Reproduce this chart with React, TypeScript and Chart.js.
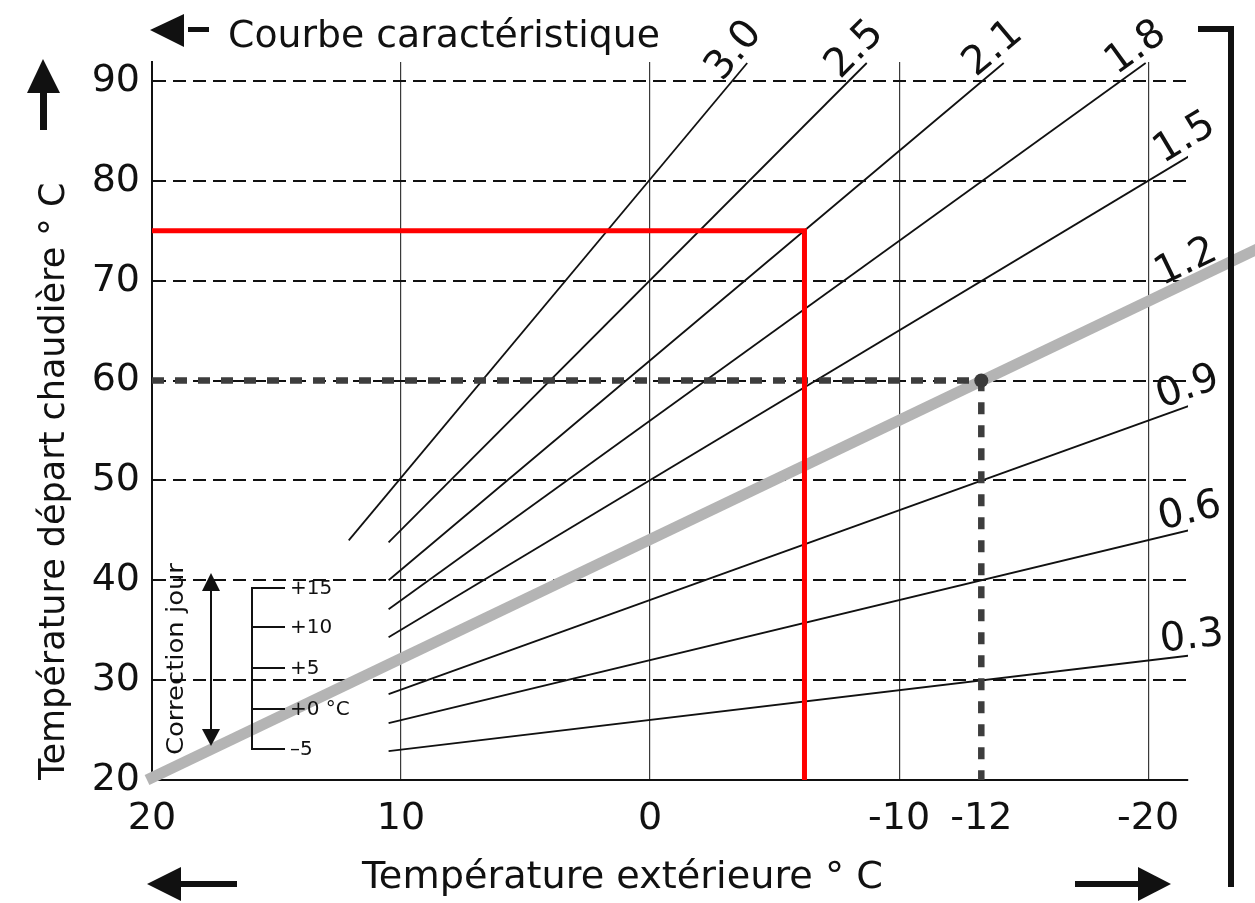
import React, { useEffect, useRef } from 'react';
import { Chart, registerables } from 'chart.js';

Chart.register(...registerables);

// Heating curves ("Courbe caractéristique"), each a straight segment
const curveNames = ['3.0', '2.5', '2.1', '1.8', '1.5', '1.2', '0.9', '0.6', '0.3'];
const curveStartX = [12.1, 10.5, 10.5, 10.5, 10.5, 10.5, 10.5, 10.5, 10.5];
const curveStartY = [44.0, 43.8, 40.0, 37.1, 34.3, 31.4, 28.6, 25.7, 22.9];
const curveEndX = [-3.9, -8.7, -14.2, -19.9, -21.8, -21.8, -21.8, -21.8, -21.8];
const curveEndY = [91.8, 91.8, 91.8, 91.8, 82.7, 70.2, 57.6, 45.1, 32.5];

// Highlighted (grey) curve
const selectedCurveX = [20.2, -24.4];
const selectedCurveY = [20.0, 73.2];

// Red construction line
const redPathX = [20, -6.2, -6.2];
const redPathY = [75, 75, 20];

// Dark dashed reading line and its point
const readingX = [20, -13.3, -13.3];
const readingY = [60, 60, 20];

// Axis ticks
const yTickValues = [20, 30, 40, 50, 60, 70, 80, 90];
const xTickValues = [20, 10, 0, -10, -13.3, -20];
const xTickLabels = ['20', '10', '0', '-10', '-12', '-20'];
const xGridHidden = [20, -13.3];

// Day correction inset
const correctionLabels = ['+15', '+10', '+5', '+0 °C', '–5'];

const FONT = '"DejaVu Sans", sans-serif';
const INK = '#111111';

function fitText(ctx: CanvasRenderingContext2D, text: string, x: number, y: number, width: number) {
  const w = ctx.measureText(text).width;
  ctx.save();
  ctx.translate(x, y);
  ctx.scale(width / w, 1);
  ctx.fillText(text, 0, 0);
  ctx.restore();
}

function tri(ctx: CanvasRenderingContext2D, ax: number, ay: number, bx: number, by: number, cx: number, cy: number) {
  ctx.beginPath();
  ctx.moveTo(ax, ay);
  ctx.lineTo(bx, by);
  ctx.lineTo(cx, cy);
  ctx.closePath();
  ctx.fill();
}

const curveLabelPlugin = {
  id: 'curveLabels',
  afterDatasetsDraw(chart: any) {
    const ctx: CanvasRenderingContext2D = chart.ctx;
    const xs = chart.scales.x;
    const ys = chart.scales.y;
    ctx.save();
    ctx.fillStyle = INK;
    ctx.font = `40px ${FONT}`;
    ctx.textAlign = 'center';
    ctx.textBaseline = 'alphabetic';
    curveNames.forEach((name, i) => {
      const x0 = xs.getPixelForValue(curveStartX[i]);
      const y0 = ys.getPixelForValue(curveStartY[i]);
      const x1 = xs.getPixelForValue(curveEndX[i]);
      const y1 = ys.getPixelForValue(curveEndY[i]);
      const ang = Math.atan2(y1 - y0, x1 - x0);
      ctx.save();
      ctx.translate(x1, y1);
      ctx.rotate(ang);
      ctx.fillText(name, 1, -7);
      ctx.restore();
    });
    ctx.restore();
  },
};

const decorPlugin = {
  id: 'decor',
  afterDraw(chart: any) {
    const ctx: CanvasRenderingContext2D = chart.ctx;
    ctx.save();
    ctx.fillStyle = INK;
    ctx.strokeStyle = INK;

    // top title with left arrow
    tri(ctx, 150, 30, 184, 14, 184, 47);
    ctx.fillRect(188, 27, 21, 5);
    ctx.font = `38px ${FONT}`;
    ctx.textAlign = 'left';
    ctx.textBaseline = 'alphabetic';
    fitText(ctx, 'Courbe caractéristique', 228, 47, 432);

    // up arrow
    tri(ctx, 43, 59, 27, 93, 60, 93);
    ctx.fillRect(40, 92, 7, 38);

    // bottom arrows
    tri(ctx, 147, 884, 181, 867, 181, 901);
    ctx.fillRect(180, 881, 57, 6);
    tri(ctx, 1171, 884, 1138, 867, 1138, 901);
    ctx.fillRect(1075, 881, 64, 6);

    // right bracket
    ctx.fillRect(1198, 26, 36, 6);
    ctx.fillRect(1228, 26, 6, 861);

    // x axis title
    ctx.font = `38px ${FONT}`;
    fitText(ctx, 'Température extérieure ° C', 362, 888, 521);

    // day correction inset
    const ticksY = [588, 627, 668, 709, 749];
    ctx.lineWidth = 2;
    ctx.beginPath();
    ctx.moveTo(252, ticksY[0]);
    ctx.lineTo(252, ticksY[ticksY.length - 1]);
    ticksY.forEach((ty) => {
      ctx.moveTo(251, ty);
      ctx.lineTo(285, ty);
    });
    ctx.stroke();
    ctx.font = `20px ${FONT}`;
    ctx.textBaseline = 'middle';
    correctionLabels.forEach((lab, i) => {
      ctx.fillText(lab, 290, ticksY[i] + 1);
    });

    // double arrow
    ctx.beginPath();
    ctx.moveTo(211, 588);
    ctx.lineTo(211, 732);
    ctx.stroke();
    tri(ctx, 211, 573, 202, 591, 220, 591);
    tri(ctx, 211, 746, 202, 729, 220, 729);

    // rotated caption
    ctx.save();
    ctx.translate(183, 755);
    ctx.rotate(-Math.PI / 2);
    ctx.font = `23px ${FONT}`;
    ctx.textBaseline = 'alphabetic';
    fitText(ctx, 'Correction jour', 0, 0, 192);
    ctx.restore();

    ctx.restore();
  },
};

export default function App() {
  const ref = useRef<HTMLCanvasElement>(null);

  useEffect(() => {
    document.body.style.margin = '0';
    const canvas = ref.current!;
    const pts = (xs: number[], ys: number[]) => xs.map((x, i) => ({ x, y: ys[i] }));

    const curveSets = curveNames.map((n, i) => ({
      label: n,
      data: [
        { x: curveStartX[i], y: curveStartY[i] },
        { x: curveEndX[i], y: curveEndY[i] },
      ],
      borderColor: INK,
      borderWidth: 1.8,
      showLine: true,
      pointRadius: 0,
      order: 4,
    }));

    const chart = new Chart(canvas, {
      type: 'scatter',
      data: {
        datasets: [
          {
            label: 'point',
            data: [{ x: readingX[1], y: readingY[1] }],
            pointRadius: 7,
            pointBackgroundColor: '#3a3a3a',
            pointBorderWidth: 0,
            showLine: false,
            order: 0,
          } as any,
          {
            label: 'red',
            data: pts(redPathX, redPathY),
            borderColor: '#ff0000',
            borderWidth: 5,
            showLine: true,
            pointRadius: 0,
            borderJoinStyle: 'miter',
            order: 1,
          },
          {
            label: 'reading',
            data: pts(readingX, readingY),
            borderColor: '#3d3d3d',
            borderWidth: 6.5,
            borderDash: [12, 11],
            showLine: true,
            pointRadius: 0,
            order: 2,
          },
          {
            label: 'selected',
            data: pts(selectedCurveX, selectedCurveY),
            borderColor: '#b4b4b4',
            borderWidth: 11,
            showLine: true,
            pointRadius: 0,
            clip: false,
            order: 3,
          },
          ...curveSets,
        ],
      },
      options: {
        animation: false,
        responsive: false,
        devicePixelRatio: 1,
        layout: { padding: { top: 62, right: 67, left: 0, bottom: 0 } },
        elements: { line: { tension: 0 } },
        plugins: {
          legend: { display: false },
          tooltip: { enabled: false },
        },
        scales: {
          x: {
            type: 'linear',
            reverse: true,
            min: -21.6,
            max: 20,
            afterBuildTicks: (s: any) => {
              s.ticks = xTickValues.map((v) => ({ value: v }));
            },
            afterFit: (s: any) => {
              s.height = 123;
            },
            ticks: {
              callback: (_v: any, i: number) => xTickLabels[i],
              font: { family: 'DejaVu Sans', size: 38 },
              color: INK,
              padding: 16,
              maxRotation: 0,
              autoSkip: false,
            },
            grid: {
              color: (c: any) =>
                c.tick && xGridHidden.includes(c.tick.value) ? 'rgba(0,0,0,0)' : '#3a3a3a',
              lineWidth: 1.2,
              drawTicks: false,
            },
            border: { display: true, color: INK, width: 2 },
          },
          y: {
            type: 'linear',
            min: 20,
            max: 91.9,
            afterBuildTicks: (s: any) => {
              s.ticks = yTickValues.map((v) => ({ value: v }));
            },
            afterFit: (s: any) => {
              s.width = 152;
            },
            ticks: {
              font: { family: 'DejaVu Sans', size: 38 },
              color: INK,
              padding: 12,
            },
            grid: {
              color: (c: any) => (c.tick && c.tick.value === 20 ? 'rgba(0,0,0,0)' : INK),
              lineWidth: 2,
              drawTicks: false,
            },
            border: { display: true, color: INK, width: 2, dash: [13, 7] },
            title: {
              display: true,
              text: 'Température départ chaudière ° C',
              align: 'start',
              color: INK,
              font: { family: 'DejaVu Sans', size: 35 },
              padding: { top: 34, bottom: 0 },
            },
          },
        },
      },
      plugins: [curveLabelPlugin, decorPlugin],
    } as any);

    return () => chart.destroy();
  }, []);

  return (
    <div style={{ position: 'absolute', left: 0, top: 0, width: 1255, height: 903 }}>
      <canvas ref={ref} width={1255} height={903} style={{ display: 'block' }} />
    </div>
  );
}
